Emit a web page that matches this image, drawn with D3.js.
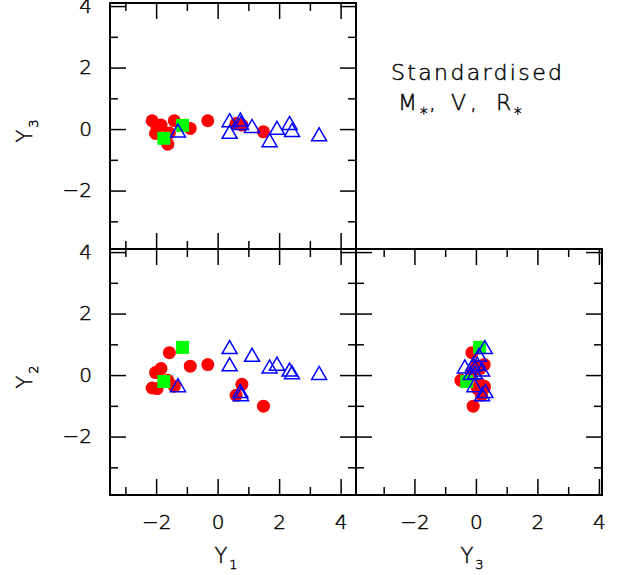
<!DOCTYPE html>
<html lang="en">
<head>
    <meta charset="UTF-8">
    <title>Standardised M*, V, R*</title>
    <script src="https://cdn.jsdelivr.net/npm/d3@7"></script>
    <style>
        body { margin: 0; background: #fff; }
        text { font-family: "DejaVu Sans", sans-serif; font-weight: 200; fill: #000; stroke: #000; stroke-width: 0.45px; }
    </style>
</head>
<body>
    <div id="chart"></div>

    <script>
        // red filled circles
        const redY1 = [-2.13, -1.84, -2.02, -1.41, -1.62, -0.89, -0.32, 0.60, 0.79, 1.49, -1.57, -1.97];
        const redY2 = [-0.42, 0.21, 0.08, -0.36, -0.17, 0.29, 0.34, -0.66, -0.30, -1.01, 0.73, -0.44];
        const redY3 = [0.27, 0.13, -0.14, 0.27, -0.49, 0.02, 0.27, 0.18, 0.13, -0.09, -0.13, 0.05];

        // green filled squares
        const greenY1 = [-1.14, -1.75];
        const greenY2 = [0.90, -0.21];
        const greenY3 = [0.12, -0.30];

        // blue open triangles
        const blueY1 = [-1.29, 0.39, 0.39, 0.74, 0.76, 1.12, 1.69, 1.93, 2.34, 2.42, 3.30];
        const blueY2 = [-0.33, 0.91, 0.35, -0.52, -0.62, 0.66, 0.28, 0.37, 0.18, 0.09, 0.07];
        const blueY3 = [-0.05, 0.29, -0.09, 0.31, 0.20, 0.10, -0.36, 0.04, 0.20, -0.03, -0.17];

        const majorTicks = [-2, 0, 2, 4];
        const minorTicks = [-3, -1, 1, 3];

        const width = 617;
        const height = 575;

        const svg = d3.select("#chart").append("svg")
            .attr("width", width)
            .attr("height", height);

        const xY1 = d3.scaleLinear().domain([-3.5, 4.5]).range([110, 356]);
        const xY3 = d3.scaleLinear().domain([-3.9, 4.1]).range([356, 602]);
        const yY3 = d3.scaleLinear().domain([-3.9, 4.1]).range([249, 3]);
        const yY2 = d3.scaleLinear().domain([-3.9, 4.1]).range([495, 249]);

        const groups = [
            {y1: redY1, y2: redY2, y3: redY3, shape: "circle"},
            {y1: greenY1, y2: greenY2, y3: greenY3, shape: "square"},
            {y1: blueY1, y2: blueY2, y3: blueY3, shape: "triangle"}
        ];

        const panels = [
            {x: xY1, y: yY3, xKey: "y1", yKey: "y3", labelX: false, labelY: true},
            {x: xY1, y: yY2, xKey: "y1", yKey: "y2", labelX: true, labelY: true},
            {x: xY3, y: yY2, xKey: "y3", yKey: "y2", labelX: true, labelY: false}
        ];

        function drawAxes(p) {
            const [x0, x1] = p.x.range();
            const [y0, y1] = p.y.range(); // y0 bottom, y1 top
            const g = svg.append("g");

            const sides = [
                {axis: d3.axisBottom, scale: p.x, t: `translate(0,${y0})`, labels: p.labelX, pad: 20},
                {axis: d3.axisTop, scale: p.x, t: `translate(0,${y1})`, labels: false, pad: 0},
                {axis: d3.axisLeft, scale: p.y, t: `translate(${x0},0)`, labels: p.labelY, pad: 18},
                {axis: d3.axisRight, scale: p.y, t: `translate(${x1},0)`, labels: false, pad: 0}
            ];

            sides.forEach(s => {
                g.append("g")
                    .attr("transform", s.t)
                    .call(s.axis(s.scale).tickValues(majorTicks).tickSize(-16).tickPadding(s.pad)
                        .tickFormat(s.labels ? (d => d < 0 ? "\u2212" + Math.abs(d) : d) : ""))
                    .call(a => a.select(".domain").remove())
                    .call(a => a.selectAll("line").attr("stroke-width", 1.5))
                    .call(a => a.selectAll("text").attr("font-size", 20)
                        .style("font-family", "\"DejaVu Sans\", sans-serif").style("font-weight", 200));

                g.append("g")
                    .attr("transform", s.t)
                    .call(s.axis(s.scale).tickValues(minorTicks).tickSize(-8).tickFormat(""))
                    .call(a => a.select(".domain").remove())
                    .call(a => a.selectAll("line").attr("stroke-width", 1.5));
            });

            g.append("rect")
                .attr("x", x0)
                .attr("y", y1)
                .attr("width", x1 - x0)
                .attr("height", y0 - y1)
                .attr("fill", "none")
                .attr("stroke", "#000")
                .attr("stroke-width", 2);
        }

        function drawPoints(p) {
            groups.forEach(grp => {
                const pts = grp.y1.map((_, i) => ({y1: grp.y1[i], y2: grp.y2[i], y3: grp.y3[i]}));
                const g = svg.append("g");
                if (grp.shape === "circle") {
                    g.selectAll("circle").data(pts).join("circle")
                        .attr("cx", d => p.x(d[p.xKey]))
                        .attr("cy", d => p.y(d[p.yKey]))
                        .attr("r", 6.5)
                        .attr("fill", "#ff0000");
                } else if (grp.shape === "square") {
                    g.selectAll("rect").data(pts).join("rect")
                        .attr("x", d => p.x(d[p.xKey]) - 6.5)
                        .attr("y", d => p.y(d[p.yKey]) - 6.5)
                        .attr("width", 13)
                        .attr("height", 13)
                        .attr("fill", "#00ff00");
                } else {
                    g.selectAll("path").data(pts).join("path")
                        .attr("transform", d => `translate(${p.x(d[p.xKey])},${p.y(d[p.yKey])})`)
                        .attr("d", "M0,-6.5L7.5,6.5L-7.5,6.5Z")
                        .attr("fill", "none")
                        .attr("stroke", "#0000ff")
                        .attr("stroke-width", 1.5);
                }
            });
        }

        panels.forEach(p => {
            drawPoints(p);
            drawAxes(p);
        });

        // axis titles
        function title(x, y, sub, rotate) {
            const t = svg.append("text")
                .attr("transform", `translate(${x},${y})` + (rotate ? " rotate(-90)" : ""))
                .attr("text-anchor", "middle")
                .attr("font-size", 21);
            t.append("tspan").text("Y");
            t.append("tspan").attr("font-size", 13).attr("dy", 6).attr("dx", 2).text(sub);
        }
        title(226, 563, "1", false);
        title(472, 563, "3", false);
        title(32, 131, "3", true);
        title(32, 377, "2", true);

        // annotation
        svg.append("text")
            .attr("x", 391)
            .attr("y", 80)
            .attr("font-size", 22)
            .attr("textLength", 171)
            .attr("lengthAdjust", "spacing")
            .text("Standardised");

        const ann = svg.append("g").attr("font-size", 22);
        const annParts = [
            {x: 398, y: 110, s: "M", size: 22},
            {x: 420, y: 119, s: "*", size: 15},
            {x: 429, y: 110, s: ",", size: 22},
            {x: 451, y: 110, s: "V", size: 22},
            {x: 470, y: 110, s: ",", size: 22},
            {x: 496, y: 110, s: "R", size: 22},
            {x: 514, y: 119, s: "*", size: 15}
        ];
        ann.selectAll("text").data(annParts).join("text")
            .attr("x", d => d.x)
            .attr("y", d => d.y)
            .attr("font-size", d => d.size)
            .text(d => d.s);
    </script>
</body>
</html>
